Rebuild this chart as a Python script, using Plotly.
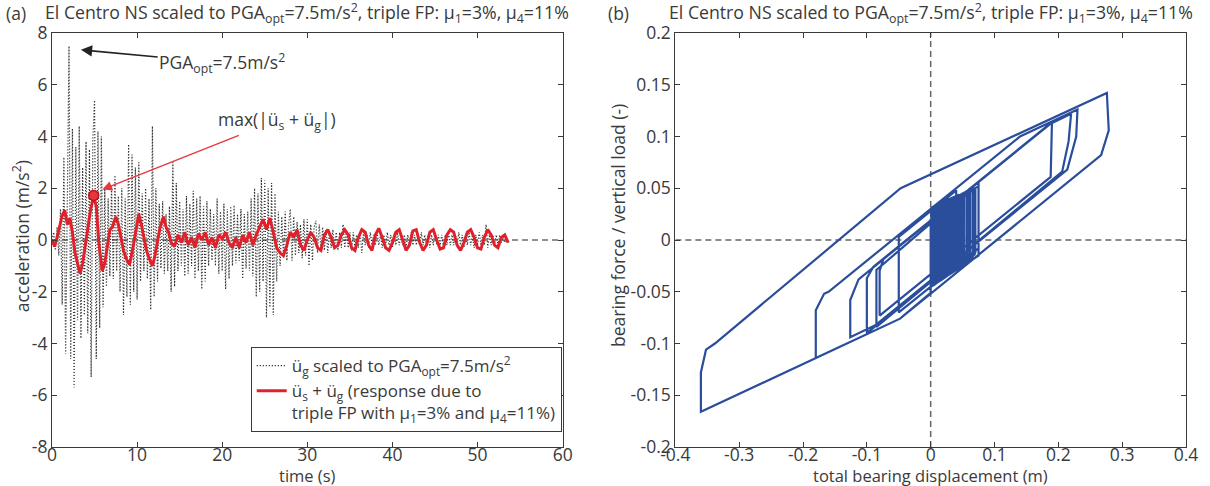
import numpy as np
import plotly.graph_objects as go

# ---------------- panel (a): ground motion (sampled every dt_g seconds) ----------------
dt_g = 0.2
ag = [0.0, 0.3, -0.4, 0.5, -0.6,
      1.2, -2.5, 3.2, -4.4, 2.4,
      7.5, -4.6, 4.3, -5.7, 3.6,
      -3.1, 4.4, -3.8, 2.8, -2.9,
      3.8, -3.6, 3.5, -5.3, 3.9,
      5.4, -4.6, 4.2, -3.4, 4.0,
      -2.6, 2.0, -1.8, 1.6, -1.4,
      2.1, -1.5, 2.5, -1.2, 1.7,
      -2.0, 2.0, -2.9, 1.6, -2.2,
      3.7, -2.5, 3.3, -2.0, 2.8,
      -2.3, 3.0, -1.6, 1.8, -1.2,
      2.0, -1.5, 1.6, -2.7, 4.4,
      -2.2, 2.0, -1.6, 1.4, -1.1,
      1.5, -1.3, 1.0, -1.2, 1.3,
      -2.0, 3.0, -1.8, 2.2, -1.2,
      1.5, -1.0, 1.2, -1.4, 1.7,
      -1.3, 1.4, -1.0, 1.9, -1.5,
      1.6, -1.2, 1.7, -1.9, 1.3,
      -1.6, 1.5, -1.0, 1.2, -0.8,
      1.0, -1.0, 1.6, -1.3, 1.1,
      -1.2, 1.4, -1.9, 1.2, -1.5,
      1.3, -1.0, 1.35, -0.9, 1.0,
      -0.8, 1.2, -1.5, 1.0, -1.1,
      1.1, -1.2, 1.6, -1.4, 2.0,
      -2.2, 1.8, -2.0, 2.4, -1.6,
      2.3, -3.0, 2.0, -2.6, 2.2,
      -2.9, 1.8, -1.6, 1.1, -1.0,
      0.9, -0.7, 1.1, -0.8, 0.6,
      1.2, -0.8, 0.9, -0.6, 0.7,
      -0.5, 0.6, -0.7, 0.8, -0.6,
      0.8, -1.0, 0.6, -0.8, 0.5,
      0.75, -0.5, 0.6, -0.4, 0.5,
      -0.4, 0.4, -0.5, 0.3, -0.3,
      0.4, -0.3, 0.3, -0.4, 0.3,
      -0.3, 0.6, -0.3, 0.4, -0.3,
      0.3, -0.4, 0.3, -0.3, 0.2,
      -0.3, 0.3, -0.5, 0.3, -0.2,
      0.2, -0.3, 0.3, -0.2, 0.2,
      -0.2, 0.3, -0.2, 0.2, -0.3,
      0.2, -0.2, 0.3, -0.2, 0.2,
      -0.3, 0.2, -0.2, 0.3, -0.2,
      0.2, -0.2, 0.2, -0.3, 0.2,
      -0.2, 0.3, -0.2, 0.2, -0.2,
      0.2, -0.2, 0.3, -0.2, 0.2,
      -0.2, 0.2, -0.3, 0.2, -0.2,
      0.3, -0.2, 0.2, -0.2, 0.2,
      -0.3, 0.2, -0.2, 0.3, -0.2,
      0.2, -0.2, 0.2, -0.2, 0.3,
      -0.2, 0.2, -0.3, 0.2, -0.2,
      0.3, -0.2, 0.2, -0.3, 0.2,
      -0.2, 0.3, -0.2, 0.2, -0.2,
      0.6, -0.3, 0.2, -0.2, 0.2,
      -0.2, 0.2, -0.2, 0.2, -0.1,
      0.1, -0.1, 0.1, -0.1]

# response of structure (total acceleration)
t_r = [0.0, 0.3, 0.6, 0.9, 1.2, 1.5, 1.8, 2.1, 2.4, 2.7, 3.0, 3.3, 3.6, 3.9, 4.2, 4.5,
       4.9, 5.2, 5.5, 5.9, 6.2, 6.5, 6.8, 7.1, 7.5, 7.8, 8.1, 8.4, 8.7, 9.1, 9.4, 9.7,
       10.0, 10.2, 10.5, 10.8, 11.1, 11.4, 11.8, 12.1, 12.4, 12.7, 13.1, 13.4, 13.7, 14.0,
       14.4, 14.8, 15.2, 15.6, 16.0, 16.4, 16.8, 17.2, 17.6, 18.0, 18.4, 18.8, 19.2, 19.6,
       20.0, 20.4, 20.8, 21.2, 21.6, 22.0, 22.4, 22.8, 23.2, 23.6, 24.0, 24.4, 24.8, 25.2,
       25.6, 26.0, 26.4, 26.8, 27.2, 27.6, 28.0, 28.4, 28.8, 29.2, 29.6, 30.0, 30.4, 30.8,
       31.2, 31.6, 32.0, 32.4, 32.8, 33.2, 33.6, 34.0, 34.4, 34.8, 35.2, 35.6, 36.0, 36.4,
       36.8, 37.2, 37.6, 38.0, 38.4, 38.8, 39.2, 39.6, 40.0, 40.4, 40.8, 41.2, 41.6, 42.0,
       42.4, 42.8, 43.2, 43.6, 44.0, 44.4, 44.8, 45.2, 45.6, 46.0, 46.4, 46.8, 47.2, 47.6,
       48.0, 48.4, 48.8, 49.2, 49.6, 50.0, 50.4, 50.8, 51.2, 51.6, 52.0, 52.4, 52.8, 53.2, 53.6]
a_r = [0.0, -0.25, 0.1, 0.6, 0.95, 1.15, 0.6, 0.85, 0.3, -0.5, -0.9, -1.3, -0.9, -0.2, 0.5, 1.1,
       1.72, 1.3, -0.1, -1.2, -0.9, -0.2, 0.4, 0.5, 0.9, 0.6, 0.1, -0.4, -0.7, -0.95, -0.5, 0.1,
       0.7, 1.0, 0.6, 0.1, -0.4, -0.7, -1.0, -0.6, 0.0, 0.5, 0.9, 0.5, 0.3, -0.1,
       -0.25, 0.2, -0.1, 0.3, -0.2, 0.1, -0.3, 0.25, 0.0, 0.3, -0.2, 0.1, -0.3, 0.2,
       0.05, 0.3, -0.1, -0.3, 0.1, -0.3, 0.2, -0.1, 0.3, -0.2, 0.2, 0.5, 0.8, 0.4,
       0.85, 0.3, -0.3, -0.5, -0.6, -0.2, 0.3, 0.1, 0.4, -0.2, -0.4, 0.0, 0.3, 0.1,
       -0.3, -0.4, 0.2, 0.4, 0.1, -0.3, -0.2, 0.2, 0.4, 0.2, -0.3, -0.4, 0.1, 0.4,
       0.3, -0.2, -0.4, 0.2, 0.45, 0.1, -0.3, -0.4, -0.1, 0.3, 0.4, 0.0, -0.4, -0.2,
       0.35, 0.4, -0.1, -0.4, -0.2, 0.3, 0.4, 0.0, -0.35, -0.3, 0.2, 0.4, 0.3, -0.2,
       -0.4, -0.1, 0.3, 0.4, 0.1, -0.3, -0.35, 0.1, 0.4, 0.2, -0.2, -0.3, 0.1, 0.2, -0.1]

# ---------------- panel (b): hysteresis ----------------
disp = [0.000, 0.000, -0.048, -0.360, -0.360, -0.352, -0.338, -0.047, 0.276, 0.279, 0.267,
        -0.048, -0.180, -0.180, -0.167, -0.160, 0.140, 0.230, 0.228, 0.214, -0.086, -0.126,
        -0.126, -0.113, 0.187, 0.220, 0.216, 0.206, -0.094, -0.100, -0.100, -0.090, 0.190,
        0.188, -0.080, -0.080, -0.074, 0.075, 0.075, -0.050, -0.050, 0.040, 0.040, -0.085,
        -0.085, 0.060, 0.060, 0.000, 0.000, 0.070, 0.070, 0.005, 0.005, 0.052, 0.052,
        0.010, 0.010, 0.075, 0.075, 0.015, 0.015, 0.048, 0.048, 0.020, 0.020, 0.066, 0.066,
        0.025, 0.025, 0.056, 0.056, 0.030, 0.030, 0.045, 0.045, 0.003, 0.003, 0.040, 0.040,
        0.008, 0.008, 0.035, 0.035, 0.012, 0.012, 0.062, 0.062, 0.018, 0.018, 0.038, 0.038,
        0.022, 0.022, 0.032, 0.032, 0.027, 0.027,
        0.044, 0.044, 0.001, 0.001, 0.036, 0.036, 0.006, 0.006, 0.029, 0.029, 0.009, 0.009,
        0.042, 0.042, 0.013, 0.013, 0.034, 0.034, 0.016, 0.016, 0.024, 0.024, 0.019, 0.019,
        0.069, 0.069, 0.004, 0.004, 0.058, 0.058, 0.011, 0.011, 0.050, 0.050, 0.021, 0.021,
        0.031, 0.031, 0.028]
force = [0.000, -0.051, -0.076, -0.166, -0.128, -0.106, -0.100, 0.050, 0.142, 0.106, 0.082,
         -0.076, -0.114, -0.068, -0.052, -0.050, 0.100, 0.126, 0.100, 0.068, -0.082, -0.094,
         -0.058, -0.038, 0.112, 0.122, 0.095, 0.066, -0.087, -0.089, -0.037, -0.026, 0.114,
         0.061, -0.073, -0.030, -0.018, 0.056, -0.008, -0.070, 0.003, 0.048, -0.020, -0.084,
         -0.029, 0.048, -0.010, -0.045, 0.020, 0.050, -0.012, -0.043, 0.030, 0.045, -0.020,
         -0.041, 0.028, 0.052, -0.015, -0.039, 0.034, 0.044, -0.022, -0.037, 0.030, 0.049, -0.016,
         -0.035, 0.036, 0.047, -0.018, -0.033, 0.035, 0.044, -0.024, -0.044, 0.032, 0.042, -0.027,
         -0.042, 0.026, 0.041, -0.029, -0.040, 0.033, 0.048, -0.012, -0.038, 0.035, 0.042, -0.028,
         -0.036, 0.032, 0.040, -0.030, -0.034, 0.030,
         0.043, -0.025, -0.045, 0.031, 0.041, -0.030, -0.043, 0.033, 0.039, -0.033, -0.041, 0.034,
         0.043, -0.028, -0.040, 0.035, 0.040, -0.031, -0.039, 0.036, 0.038, -0.035, -0.037, 0.030,
         0.050, -0.014, -0.044, 0.028, 0.047, -0.019, -0.040, 0.030, 0.045, -0.021, -0.037, 0.033,
         0.040, -0.028, 0.000]

# tick labels
xa_ticks = [0, 10, 20, 30, 40, 50, 60]
ya_ticks = [-8, -6, -4, -2, 0, 2, 4, 6, 8]
xb_ticks = [-0.4, -0.3, -0.2, -0.1, 0, 0.1, 0.2, 0.3, 0.4]
yb_ticks = [-0.2, -0.15, -0.1, -0.05, 0, 0.05, 0.1, 0.15, 0.2]
xb_text = ["-0.4", "-0.3", "-0.2", "-0.1", "0", "0.1", "0.2", "0.3", "0.4"]
yb_text = ["-0.2", "-0.15", "-0.1", "-0.05", "0", "0.05", "0.1", "0.15", "0.2"]

t_g = np.arange(len(ag)) * dt_g
imax = int(np.argmax(np.abs(a_r)))

FONT = "Open Sans"
TXT = "#3a3a3a"
AX = "#3a3a3a"
FS = 17.5

fig = go.Figure()
fig.add_trace(go.Scatter(
    x=t_g, y=ag, mode="lines", xaxis="x", yaxis="y",
    line=dict(color="#333333", width=1.2, dash="1.2px,1.8px"),
    name="ü<sub>g</sub> scaled to PGA<sub>opt</sub>=7.5m/s<sup>2</sup>"))
fig.add_trace(go.Scatter(
    x=t_r, y=a_r, mode="lines", xaxis="x", yaxis="y",
    line=dict(color="#e0202a", width=3),
    name="ü<sub>s</sub> + ü<sub>g</sub> (response due to<br>triple FP with μ<sub>1</sub>=3% and μ<sub>4</sub>=11%)"))
fig.add_trace(go.Scatter(
    x=[t_r[imax]], y=[a_r[imax]], mode="markers", xaxis="x", yaxis="y",
    marker=dict(color="#e8343a", size=10, line=dict(color="#c0101a", width=1.5)),
    showlegend=False))
fig.add_trace(go.Scatter(
    x=disp, y=force, mode="lines", xaxis="x2", yaxis="y2",
    line=dict(color="#2a4d9c", width=2.2), showlegend=False))

dom_a = [0.0, 0.4503]
dom_b = [0.5497, 1.0]
common = dict(showline=True, linecolor=AX, linewidth=1, mirror="ticks", ticks="inside",
              ticklen=5, tickcolor=AX, showgrid=False, zeroline=False,
              tickfont=dict(family=FONT, size=FS, color=TXT))

fig.update_layout(
    width=1210, height=486,
    margin=dict(l=52, r=12, t=33, b=39),
    paper_bgcolor="white", plot_bgcolor="white",
    font=dict(family=FONT, size=FS, color=TXT),
    xaxis=dict(domain=dom_a, range=[0, 60], tickvals=xa_ticks,
               ticktext=[str(v) for v in xa_ticks], anchor="y", ticklabelstandoff=-8, **common),
    yaxis=dict(domain=[0, 1], range=[-8, 8], tickvals=ya_ticks,
               ticktext=[str(v) for v in ya_ticks], anchor="x", **common),
    xaxis2=dict(domain=dom_b, range=[-0.4, 0.4], tickvals=xb_ticks, ticktext=xb_text,
                anchor="y2", ticklabelstandoff=-8, **common),
    yaxis2=dict(domain=[0, 1], range=[-0.2, 0.2], tickvals=yb_ticks, ticktext=yb_text,
                anchor="x2", **common),
    legend=dict(x=0.4495, xanchor="right", y=0.036, yanchor="bottom",
                bgcolor="white", bordercolor=AX, borderwidth=1,
                font=dict(family=FONT, size=17, color=TXT), valign="top",
                tracegroupgap=0),
    showlegend=True,
)

# dashed reference lines
fig.add_shape(type="line", xref="x", yref="y", x0=0, x1=60, y0=0, y1=0,
              line=dict(color="#222", width=1.2, dash="6px,4px"), layer="below")
fig.add_shape(type="line", xref="x2", yref="y2", x0=-0.4, x1=0.4, y0=0, y1=0,
              line=dict(color="#666", width=1.5, dash="6px,4px"), layer="below")
fig.add_shape(type="line", xref="x2", yref="y2", x0=0, x1=0, y0=-0.2, y1=0.2,
              line=dict(color="#666", width=1.5, dash="6px,4px"), layer="below")

title_txt = ("El Centro NS scaled to PGA<sub>opt</sub>=7.5m/s<sup>2</sup>, triple FP: "
             "μ<sub>1</sub>=3%, μ<sub>4</sub>=11%")
ann_font = dict(family=FONT, size=FS, color=TXT)
xt_font = dict(family=FONT, size=16.5, color=TXT)
yt = (447 - 13) / 414
annots = [
    dict(text="(a)", x=(16 - 52) / 1146, y=yt, font=ann_font),
    dict(text="(b)", x=(624 - 52) / 1146, y=yt, font=ann_font),
    dict(text=title_txt, x=(dom_a[0] + dom_a[1]) / 2, y=yt, font=dict(family=FONT, size=17.7, color=TXT)),
    dict(text=title_txt, x=(dom_b[0] + dom_b[1]) / 2, y=yt, font=dict(family=FONT, size=17.7, color=TXT)),
    dict(text="time (s)", x=(dom_a[0] + dom_a[1]) / 2, y=(447 - 475.5) / 414, font=xt_font),
    dict(text="total bearing displacement (m)", x=(dom_b[0] + dom_b[1]) / 2, y=(447 - 475.5) / 414,
         font=xt_font),
    dict(text="acceleration (m/s<sup>2</sup>)", x=(21 - 52) / 1146, y=(447 - 236) / 414,
         textangle=-90, font=ann_font),
    dict(text="bearing force / vertical load (-)", x=(624 - 52) / 1146, y=(447 - 226) / 414,
         textangle=-90, font=ann_font),
]
for a in annots:
    fig.add_annotation(xref="paper", yref="paper", showarrow=False, xanchor="center",
                       yanchor="middle", borderpad=0, **a)

fig.add_annotation(xref="x", yref="y", x=3.4, y=7.35, axref="x", ayref="y", ax=20.0, ay=6.84,
                   text="PGA<sub>opt</sub>=7.5m/s<sup>2</sup>", showarrow=True, arrowhead=2,
                   arrowsize=1.4, arrowwidth=1.6, arrowcolor="#222", font=ann_font)
fig.add_annotation(xref="x", yref="y", x=5.9, y=1.95, axref="x", ayref="y", ax=26.4, ay=4.62,
                   text="max(|ü<sub>s</sub> + ü<sub>g</sub>|)", showarrow=True, arrowhead=2,
                   arrowsize=1.4, arrowwidth=1.4, arrowcolor="#e8383e", font=ann_font)

fig.write_html("out.html")
